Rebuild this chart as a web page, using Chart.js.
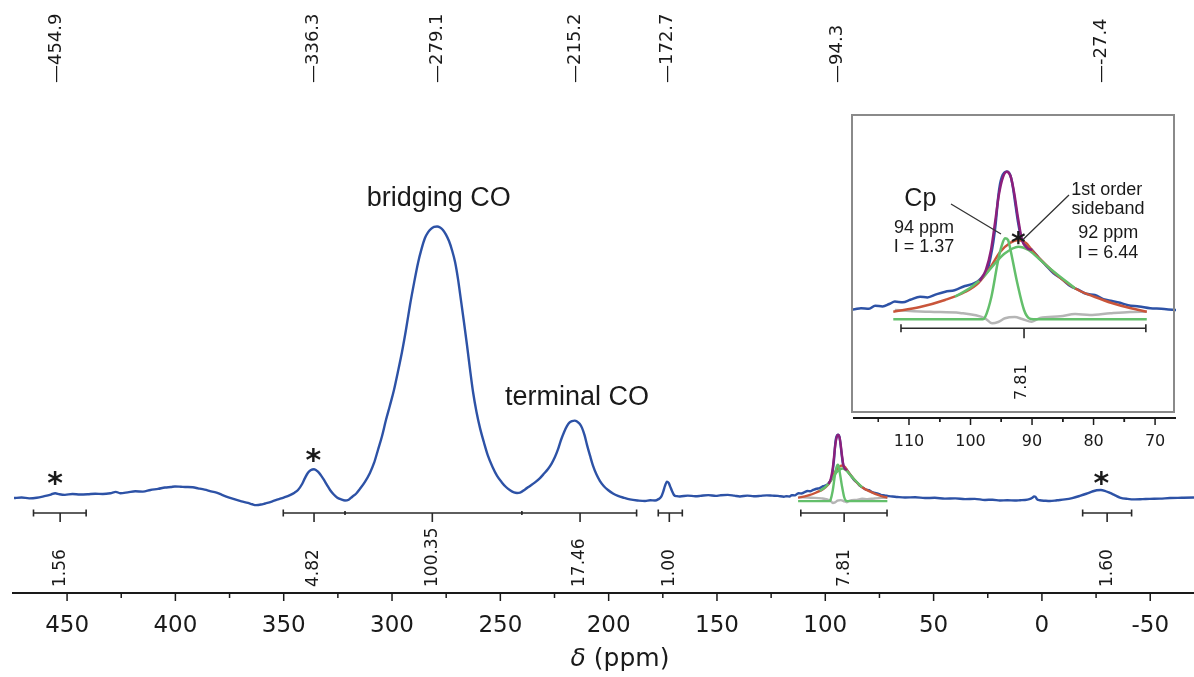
<!DOCTYPE html>
<html>
<head>
<meta charset="utf-8">
<script src="https://cdn.jsdelivr.net/npm/chart.js@4/dist/chart.umd.min.js"></script>
<style>
  html, body { margin: 0; padding: 0; background: #fff; }
  #wrap { position: relative; width: 1194px; height: 677px; overflow: hidden; }
  #main { position: absolute; left: 0; top: 0; }
  #inset { position: absolute; left: 845px; top: 108px; }
</style>
</head>
<body>
<div id="wrap">
  <canvas id="main" width="1194" height="677"></canvas>
  <canvas id="inset" width="349" height="350"></canvas>
</div>
<script>
// 13C MAS NMR spectrum: chemical shift (ppm) and intensity (arbitrary units)
const specPpm = [
  474.5, 471.0, 467.5, 464.0, 460.5, 457.5, 455.5, 453.5, 451.0, 447.5, 444.0, 440.5, 437.0, 433.5,
  430.0, 427.5, 425.5, 422.0, 418.5, 415.0, 411.5, 408.0, 404.8, 402.0, 400.2, 397.5, 395.5, 392.0,
  389.5, 386.5, 384.0, 381.0, 378.5, 375.5, 372.5, 369.5, 366.5, 364.5, 362.8, 360.5, 358.6, 355.5,
  352.6, 350.0, 347.1, 345.0, 343.4, 341.5, 340.2, 338.8, 337.6, 336.0, 334.2, 332.8, 331.4, 330.0,
  328.6, 327.0, 325.4, 323.5, 321.7, 320.0, 318.5, 316.5, 314.8, 312.5, 310.2, 308.3, 306.5, 304.6,
  302.8, 301.0, 299.1, 297.3, 295.4, 293.5, 291.7, 289.8, 288.0, 286.4, 284.8, 283.4, 282.0, 280.6,
  279.2, 277.8, 276.5, 275.1, 273.7, 272.3, 270.9, 269.5, 268.2, 266.8, 265.4, 264.0, 262.6, 261.0,
  259.4, 257.5, 255.7, 253.6, 251.5, 249.4, 247.4, 245.5, 243.7, 242.3, 240.9, 238.6, 236.3, 234.0,
  231.7, 229.9, 228.0, 226.4, 224.8, 223.4, 222.0, 220.6, 219.2, 218.0, 216.9, 215.7, 214.6, 213.4,
  212.3, 211.1, 210.0, 208.6, 207.2, 205.6, 204.0, 202.2, 200.3, 198.0, 195.7, 193.0, 190.2, 186.5,
  183.2, 180.8, 178.6, 177.0, 175.8, 174.8, 174.0, 173.1, 172.3, 171.7, 170.8, 169.8, 168.5, 167.1,
  163.5, 160.0, 157.8, 154.0, 150.5, 148.6, 145.0, 142.0, 139.4, 136.0, 133.0, 130.2, 127.0, 124.5,
  121.8, 119.1, 117.8, 116.5, 115.5, 114.3, 113.2, 112.3, 111.0, 109.8, 108.2, 107.0, 105.6, 104.1,
  102.6, 100.9, 99.8, 98.8, 98.0, 97.2, 96.7, 96.3, 95.9, 95.5, 95.2, 94.9, 94.5, 94.1,
  93.7, 93.4, 93.1, 92.8, 92.3, 91.7, 91.0, 90.0, 88.9, 87.9, 86.5, 85.2, 83.8, 82.5,
  81.2, 79.8, 78.4, 77.0, 75.7, 74.4, 72.6, 70.8, 69.0, 66.7, 63.2, 58.5, 54.0, 49.5,
  44.8, 40.0, 35.5, 31.0, 26.3, 22.8, 19.4, 16.0, 12.5, 10.0, 7.8, 5.8, 4.6, 3.6,
  3.0, 2.2, 1.0, -1.5, -3.7, -7.0, -10.6, -14.0, -17.5, -20.5, -23.1, -25.3, -27.2, -29.0,
  -31.4, -33.8, -36.0, -39.5, -42.9, -46.5, -49.8, -54.5, -59.1, -64.5, -70.2
];
const specInt = [
  -0.4, -0.2, -0.5, -0.3, 0.3, 0.9, 1.4, 1.0, 0.8, 1.1, 0.9, 1.0, 1.2, 1.1,
  1.4, 1.9, 1.4, 1.7, 2.1, 2.0, 2.6, 3.0, 3.5, 3.7, 3.9, 3.8, 3.7, 3.6,
  3.2, 2.7, 2.2, 1.6, 0.8, -0.1, -0.9, -1.6, -2.2, -2.7, -3.0, -2.8, -2.4, -1.7,
  -0.9, -0.2, 0.7, 1.6, 2.6, 4.8, 7.0, 9.0, 9.9, 10.3, 9.4, 8.0, 6.3, 4.4,
  2.6, 1.0, -0.2, -0.9, -1.3, -1.0, 0.0, 1.3, 3.0, 5.6, 8.9, 12.6, 17.4, 22.6,
  28.5, 33.8, 39.6, 46.3, 53.7, 62.2, 71.1, 79.4, 86.7, 91.8, 95.9, 98.0, 99.3, 100.0,
  100.2, 99.8, 98.9, 97.2, 94.8, 91.4, 87.0, 80.5, 73.0, 64.8, 56.3, 47.3, 38.9, 31.5,
  25.6, 20.0, 15.2, 11.1, 7.8, 5.5, 3.7, 2.5, 1.7, 1.5, 1.6, 2.8, 4.1, 5.4,
  7.0, 8.6, 10.4, 12.3, 14.8, 17.6, 21.1, 24.0, 26.3, 27.6, 28.1, 28.3, 28.0, 27.1,
  25.6, 22.8, 19.3, 15.3, 11.5, 8.3, 5.9, 4.0, 2.6, 1.3, 0.4, -0.3, -0.9, -1.3,
  -1.5, -1.2, -1.3, -0.8, 0.0, 2.0, 4.1, 5.7, 5.2, 4.1, 2.3, 0.7, 0.3, 0.2,
  0.5, 0.3, 0.4, 0.7, 0.4, 0.6, 0.8, 0.5, 0.2, 0.5, 0.3, 0.4, 0.6, 0.5,
  0.4, 0.1, 0.3, 0.2, 0.7, 0.6, 1.0, 1.4, 1.3, 1.7, 2.2, 2.1, 2.6, 3.05,
  3.3, 4.0, 4.3, 4.8, 5.6, 6.8, 9.0, 11.3, 14.5, 18.8, 21.0, 22.2, 22.9, 23.1,
  22.8, 22.0, 20.4, 18.3, 14.8, 11.8, 10.8, 10.0, 8.7, 7.6, 6.1, 5.2, 4.0, 3.4,
  2.7, 2.5, 1.8, 1.5, 1.2, 0.8, 0.6, 0.3, 0.2, 0.0, -0.2, -0.1, -0.4, -0.3,
  -0.6, -0.5, -0.8, -0.7, -1.1, -1.0, -1.3, -1.2, -1.3, -1.2, -1.1, -0.8, -0.4, 0.2,
  0.1, -0.9, -1.2, -1.4, -1.5, -1.2, -0.9, -0.4, 0.4, 1.2, 2.0, 2.5, 2.6, 2.3,
  1.5, 0.6, -0.2, -0.7, -0.9, -0.8, -0.7, -0.6, -0.4, -0.3, -0.2
];

// Deconvolution of the Cp region
const envelopePpm = [98.5, 97.5, 96.67, 96.0, 95.37, 94.72, 94.11, 93.5, 92.93, 92.28, 91.63, 90.8, 89.99];
const envelopeInt = [4.83, 6.67, 10.0, 14.67, 19.33, 22.17, 23.05, 22.33, 19.67, 15.33, 11.67, 10.33, 10.0];

const broadFitPpm = [112.55, 108.2, 104.15, 100.9, 98.73, 96.83, 95.2, 93.58, 92.28, 90.98, 90.05, 87.89, 85.17, 82.52, 79.76, 77.04, 74.07, 71.35];
const broadFitInt = [-0.28, 0.5, 1.67, 3.0, 4.5, 7.0, 9.67, 11.17, 11.67, 11.17, 10.0, 7.67, 5.17, 3.33, 2.17, 1.17, 0.33, -0.28];

const cpPpm = [112.55, 98.0, 97.6, 96.6, 95.5, 94.9, 94.4, 93.9, 93.5, 92.4, 91.3, 90.5, 89.8, 71.35];
const cpInt = [-1.55, -1.55, -1.12, 2.22, 8.33, 10.8, 11.95, 11.67, 10.0, 4.5, 0.0, -1.38, -1.55, -1.55];

const sidebandPpm = [102.52, 99.8, 97.64, 96.02, 94.39, 92.23, 90.6, 88.97, 86.8, 83.0];
const sidebandInt = [2.22, 3.88, 5.83, 7.78, 9.45, 10.55, 10.0, 8.62, 6.67, 3.6];

const residPpm = [112.3, 106.6, 101.7, 97.64, 96.5, 95.5, 94.4, 92.8, 91.6, 90.05, 88.7, 85.4, 83.0, 80.6, 77.3, 74.07, 71.35];
const residInt = [0.0, -0.3, -0.5, -1.38, -2.22, -2.0, -1.38, -1.17, -1.5, -1.95, -1.33, -1.05, -0.67, -0.83, -0.55, -0.33, -0.28];

// Peak picking labels
const peakShifts = [454.9, 336.3, 279.1, 215.2, 172.7, 94.3, -27.4];

// Integration regions
const integralFrom = [465.5, 350.2, 321.7, 240.1, 177.1, 111.3, -18.8];
const integralTo = [441.2, 321.7, 240.1, 187.1, 166.0, 71.5, -41.4];
const integralMark = [453.2, 336.0, 281.4, 213.2, 172.0, 91.3, -30.1];
const integralValues = ['1.56', '4.82', '100.35', '17.46', '1.00', '7.81', '1.60'];

// Spinning sideband markers
const sidebandStars = [455.5, 336.3, -27.4];

// Axis ticks
const mainTicks = [450, 400, 350, 300, 250, 200, 150, 100, 50, 0, -50];
const insetTicks = [110, 100, 90, 80, 70];

const BLUE = '#2d52a6', MAGENTA = '#8c1f7c', RED = '#c9553a', GREEN = '#63bf6b', GRAY = '#b5b5b5', INK = '#1a1a1a';

const pairs = (xs, ys) => xs.map((x, i) => ({ x, y: ys[i] }));
const line = (data, color, width, order) => ({
  data, borderColor: color, borderWidth: width, pointRadius: 0, fill: false,
  cubicInterpolationMode: 'monotone', order
});

function datasets(w) {
  return [
    line(pairs(envelopePpm, envelopeInt), MAGENTA, w, 1),
    line(pairs(cpPpm, cpInt), GREEN, w, 2),
    line(pairs(sidebandPpm, sidebandInt), GREEN, w, 3),
    line(pairs(broadFitPpm, broadFitInt), RED, w, 4),
    line(pairs(residPpm, residInt), GRAY, w, 5),
    line(pairs(specPpm, specInt), BLUE, w, 6)
  ];
}

function vText(ctx, txt, x, yStart, font) {
  ctx.save();
  ctx.translate(x, yStart);
  ctx.rotate(-Math.PI / 2);
  ctx.font = font;
  ctx.textAlign = 'left';
  ctx.textBaseline = 'middle';
  ctx.fillText(txt, 0, 0);
  ctx.restore();
}

function star(ctx, x, y, size) {
  ctx.save();
  ctx.font = 'bold ' + size + 'px "DejaVu Sans"';
  ctx.textAlign = 'center';
  ctx.textBaseline = 'alphabetic';
  ctx.fillText('*', x, y + size * 0.57);
  ctx.restore();
}

function bracket(ctx, xs, idx, y, capH, tickLen) {
  const x1 = xs.getPixelForValue(integralFrom[idx]);
  const x2 = xs.getPixelForValue(integralTo[idx]);
  const xm = xs.getPixelForValue(integralMark[idx]);
  ctx.beginPath();
  ctx.moveTo(x1, y); ctx.lineTo(x2, y);
  const shared = v => integralFrom.includes(v) && integralTo.includes(v);
  const c1 = shared(integralFrom[idx]) ? capH * 0.5 : capH;
  const c2 = shared(integralTo[idx]) ? capH * 0.5 : capH;
  ctx.moveTo(x1, y - c1); ctx.lineTo(x1, y + c1);
  ctx.moveTo(x2, y - c2); ctx.lineTo(x2, y + c2);
  ctx.moveTo(xm, y); ctx.lineTo(xm, y + tickLen);
  ctx.stroke();
  return xm;
}

const mainDecor = {
  id: 'mainDecor',
  afterDraw(chart) {
    const ctx = chart.ctx, xs = chart.scales.x, ys = chart.scales.y, ca = chart.chartArea;
    ctx.save();
    ctx.strokeStyle = INK; ctx.fillStyle = INK;

    // axis line with major and minor ticks
    const ay = ca.bottom;
    ctx.lineWidth = 2;
    ctx.beginPath(); ctx.moveTo(ca.left - 2, ay); ctx.lineTo(ca.right, ay); ctx.stroke();
    ctx.lineWidth = 1.5;
    mainTicks.forEach(v => {
      const px = xs.getPixelForValue(v);
      ctx.beginPath(); ctx.moveTo(px, ay); ctx.lineTo(px, ay + 8); ctx.stroke();
      const m = v + 25;
      if (m <= xs.max) {
        const pm = xs.getPixelForValue(m);
        ctx.beginPath(); ctx.moveTo(pm, ay); ctx.lineTo(pm, ay + 5); ctx.stroke();
      }
    });
    const mEnd = mainTicks[mainTicks.length - 1] - 25;
    if (mEnd >= xs.min) {
      const pm = xs.getPixelForValue(mEnd);
      ctx.beginPath(); ctx.moveTo(pm, ay); ctx.lineTo(pm, ay + 5); ctx.stroke();
    }

    // axis title
    ctx.textBaseline = 'middle';
    ctx.font = 'italic 25px "DejaVu Sans"';
    const d = 'δ', rest = ' (ppm)';
    const wd = ctx.measureText(d).width;
    ctx.font = '25px "DejaVu Sans"';
    const wr = ctx.measureText(rest).width;
    const cx = 620, cy = 659;
    ctx.textAlign = 'left';
    ctx.font = 'italic 25px "DejaVu Sans"';
    ctx.fillText(d, cx - (wd + wr) / 2, cy);
    ctx.font = '25px "DejaVu Sans"';
    ctx.fillText(rest, cx - (wd + wr) / 2 + wd, cy);

    // peak labels
    peakShifts.forEach(v => {
      vText(ctx, '—' + v.toFixed(1), xs.getPixelForValue(v), 83, '18px "DejaVu Sans"');
    });

    // integrals
    ctx.lineWidth = 1.6;
    ctx.strokeStyle = '#2a2a2a';
    integralValues.forEach((txt, i) => {
      const xm = bracket(ctx, xs, i, 513, 3.5, 9);
      vText(ctx, txt, xm, 587, '17px "DejaVu Sans"');
    });

    // sideband stars
    ctx.fillStyle = INK;
    const starY = [7.8, 16.3, 7.8];
    sidebandStars.forEach((v, i) => star(ctx, xs.getPixelForValue(v), ys.getPixelForValue(starY[i]), 30));

    // peak assignments
    ctx.font = '27px "Liberation Sans"';
    ctx.textAlign = 'center';
    ctx.textBaseline = 'middle';
    ctx.fillText('bridging CO', xs.getPixelForValue(278.4), ys.getPixelForValue(110.7));
    ctx.fillText('terminal CO', xs.getPixelForValue(214.6), ys.getPixelForValue(37.0));
    ctx.restore();
  }
};

new Chart(document.getElementById('main'), {
  type: 'line',
  data: { datasets: datasets(2.4) },
  options: {
    responsive: false, animation: false, events: [],
    layout: { padding: { left: 14, right: 0, top: 0, bottom: 0 } },
    plugins: { legend: { display: false }, tooltip: { enabled: false } },
    scales: {
      x: {
        type: 'linear', reverse: true, min: -70.2, max: 474.5,
        afterBuildTicks: a => { a.ticks = mainTicks.map(v => ({ value: v })); },
        afterFit: a => { a.height = 84; },
        grid: { display: false, drawTicks: false }, border: { display: false },
        ticks: { font: { family: 'DejaVu Sans', size: 23 }, color: INK, padding: 19, maxRotation: 0, autoSkip: false, callback: v => String(v) }
      },
      y: { display: false, min: -35.56, max: 184.07 }
    }
  },
  plugins: [mainDecor]
});

const insetDecor = {
  id: 'insetDecor',
  afterDraw(chart) {
    const ctx = chart.ctx, xs = chart.scales.x, ca = chart.chartArea;
    ctx.save();
    // frame
    ctx.strokeStyle = '#8a8a8a'; ctx.lineWidth = 2;
    ctx.strokeRect(ca.left - 1, ca.top, ca.right - ca.left - 1, ca.bottom - ca.top - 6);
    // axis
    ctx.strokeStyle = INK; ctx.fillStyle = INK; ctx.lineWidth = 2;
    ctx.beginPath(); ctx.moveTo(ca.left, ca.bottom); ctx.lineTo(ca.right, ca.bottom); ctx.stroke();
    ctx.lineWidth = 1.5;
    insetTicks.forEach(v => {
      const px = xs.getPixelForValue(v);
      ctx.beginPath(); ctx.moveTo(px, ca.bottom); ctx.lineTo(px, ca.bottom + 7); ctx.stroke();
      [v + 5, v - 5].forEach(m => {
        if (m <= xs.max && m >= xs.min && !insetTicks.includes(m)) {
          const pm = xs.getPixelForValue(m);
          ctx.beginPath(); ctx.moveTo(pm, ca.bottom); ctx.lineTo(pm, ca.bottom + 4); ctx.stroke();
        }
      });
    });
    // integral of the Cp region
    ctx.lineWidth = 1.6; ctx.strokeStyle = '#2a2a2a';
    const xm = bracket(ctx, xs, 5, 220.3, 4, 10);
    vText(ctx, integralValues[5], xm - 2, 292, '16px "DejaVu Sans"');

    // annotations
    ctx.fillStyle = INK;
    ctx.textAlign = 'center'; ctx.textBaseline = 'middle';
    ctx.font = '25px "Liberation Sans"';
    ctx.fillText('Cp', 75.3, 91.3);
    ctx.font = '18px "Liberation Sans"';
    ctx.fillText('94 ppm', 79, 120.3);
    ctx.fillText('I = 1.37', 79, 138.7);
    ctx.fillText('1st order', 261.7, 82);
    ctx.fillText('sideband', 263, 101.3);
    ctx.fillText('92 ppm', 263.3, 125.3);
    ctx.fillText('I = 6.44', 263, 144.7);
    ctx.strokeStyle = '#333'; ctx.lineWidth = 1.3;
    ctx.beginPath();
    ctx.moveTo(106, 96); ctx.lineTo(156, 126);
    ctx.moveTo(224, 87); ctx.lineTo(178.3, 131.3);
    ctx.stroke();
    star(ctx, 173.3, 128, 28);
    ctx.restore();
  }
};

new Chart(document.getElementById('inset'), {
  type: 'line',
  data: { datasets: datasets(2.5) },
  options: {
    responsive: false, animation: false, events: [],
    layout: { padding: { left: 8, right: 18, top: 7, bottom: 0 } },
    plugins: { legend: { display: false }, tooltip: { enabled: false } },
    scales: {
      x: {
        type: 'linear', reverse: true, min: 66.6, max: 119.1,
        afterBuildTicks: a => { a.ticks = insetTicks.map(v => ({ value: v })); },
        afterFit: a => { a.height = 40; },
        grid: { display: false, drawTicks: false }, border: { display: false },
        ticks: { font: { family: 'DejaVu Sans', size: 16 }, color: INK, padding: 14, maxRotation: 0, autoSkip: false, callback: v => String(v) }
      },
      y: { display: false, min: -18, max: 32.5 }
    }
  },
  plugins: [insetDecor]
});
</script>
</body>
</html>
